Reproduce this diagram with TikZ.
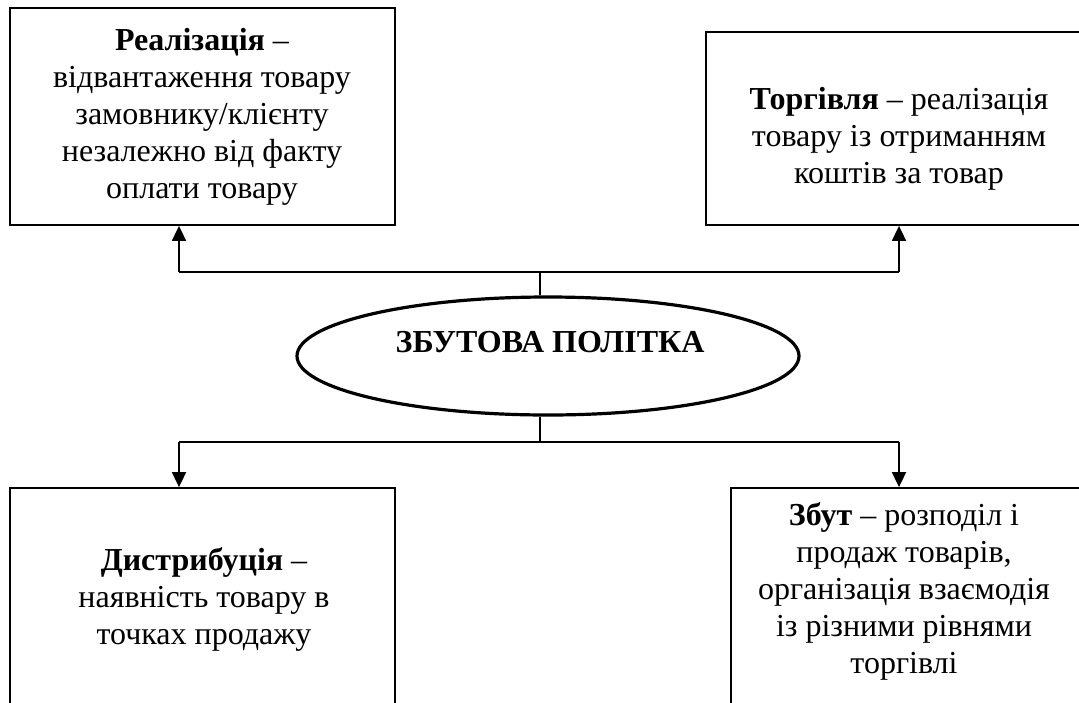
\documentclass[tikz,border=0pt]{standalone}
\usepackage{fontspec}
\setmainfont{Liberation Serif}
\usetikzlibrary{arrows.meta,shapes.geometric}
\begin{document}
\begin{tikzpicture}[x=1pt,y=-1pt,
  box/.style={draw=black,line width=1.8pt,rectangle,inner sep=0pt},
  txt/.style={align=center,font=\fontsize{32}{37}\selectfont,inner sep=0pt},
  conn/.style={line width=1.8pt},
  arr/.style={line width=1.8pt,-{Triangle[width=14pt,length=15pt]}}]
\useasboundingbox (0,0) rectangle (1079,702);
\fill[white] (0,0) rectangle (1079,702);
% boxes
\node[box,minimum width=385pt,minimum height=217pt] (b1) at (202.5,116.5) {};
\node[box,minimum width=386pt,minimum height=193pt] (b2) at (899,128.5) {};
\node[box,minimum width=385pt,minimum height=240pt] (b3) at (202.5,608) {};
\node[box,minimum width=386pt,minimum height=240pt] (b4) at (924,608) {};
% texts
\node[txt] (t1) at (202,117) {\textbf{Реалізація} –\\відвантаження товару\\замовнику/клієнту\\незалежно від факту\\оплати товару};
\node[txt] (t2) at (899,139) {\textbf{Торгівля} – реалізація\\товару із отриманням\\коштів за товар};
\node[txt] (t3) at (204,599) {\textbf{Дистрибуція} –\\наявність товару в\\точках продажу};
\node[txt] (t4) at (904,591) {\textbf{Збут} – розподіл і\\продаж товарів,\\організація взаємодія\\із різними рівнями\\торгівлі};
% ellipse
\node[ellipse,draw=black,line width=3.2pt,minimum width=502pt,minimum height=118pt,inner sep=0pt] (e) at (548,356) {};
\node[font=\fontsize{32}{37}\selectfont\bfseries,inner sep=0pt] (et) at (550,342) {ЗБУТОВА ПОЛІТКА};
% connectors
\coordinate (jt) at (540,272);
\coordinate (jb) at (540,442);
\coordinate (p1) at (179,272);
\coordinate (p2) at (899,272);
\coordinate (p3) at (179,442);
\coordinate (p4) at (899,442);
\draw[conn] (jt) -- (jt |- e.north);
\draw[conn] (jb) -- (jb |- e.south);
\draw[conn] (p1) -- (p2);
\draw[conn] (p3) -- (p4);
\draw[arr] (p1) -- (p1 |- b1.south);
\draw[arr] (p2) -- (p2 |- b2.south);
\draw[arr] (p3) -- (p3 |- b3.north);
\draw[arr] (p4) -- (p4 |- b4.north);
\end{tikzpicture}
\end{document}
